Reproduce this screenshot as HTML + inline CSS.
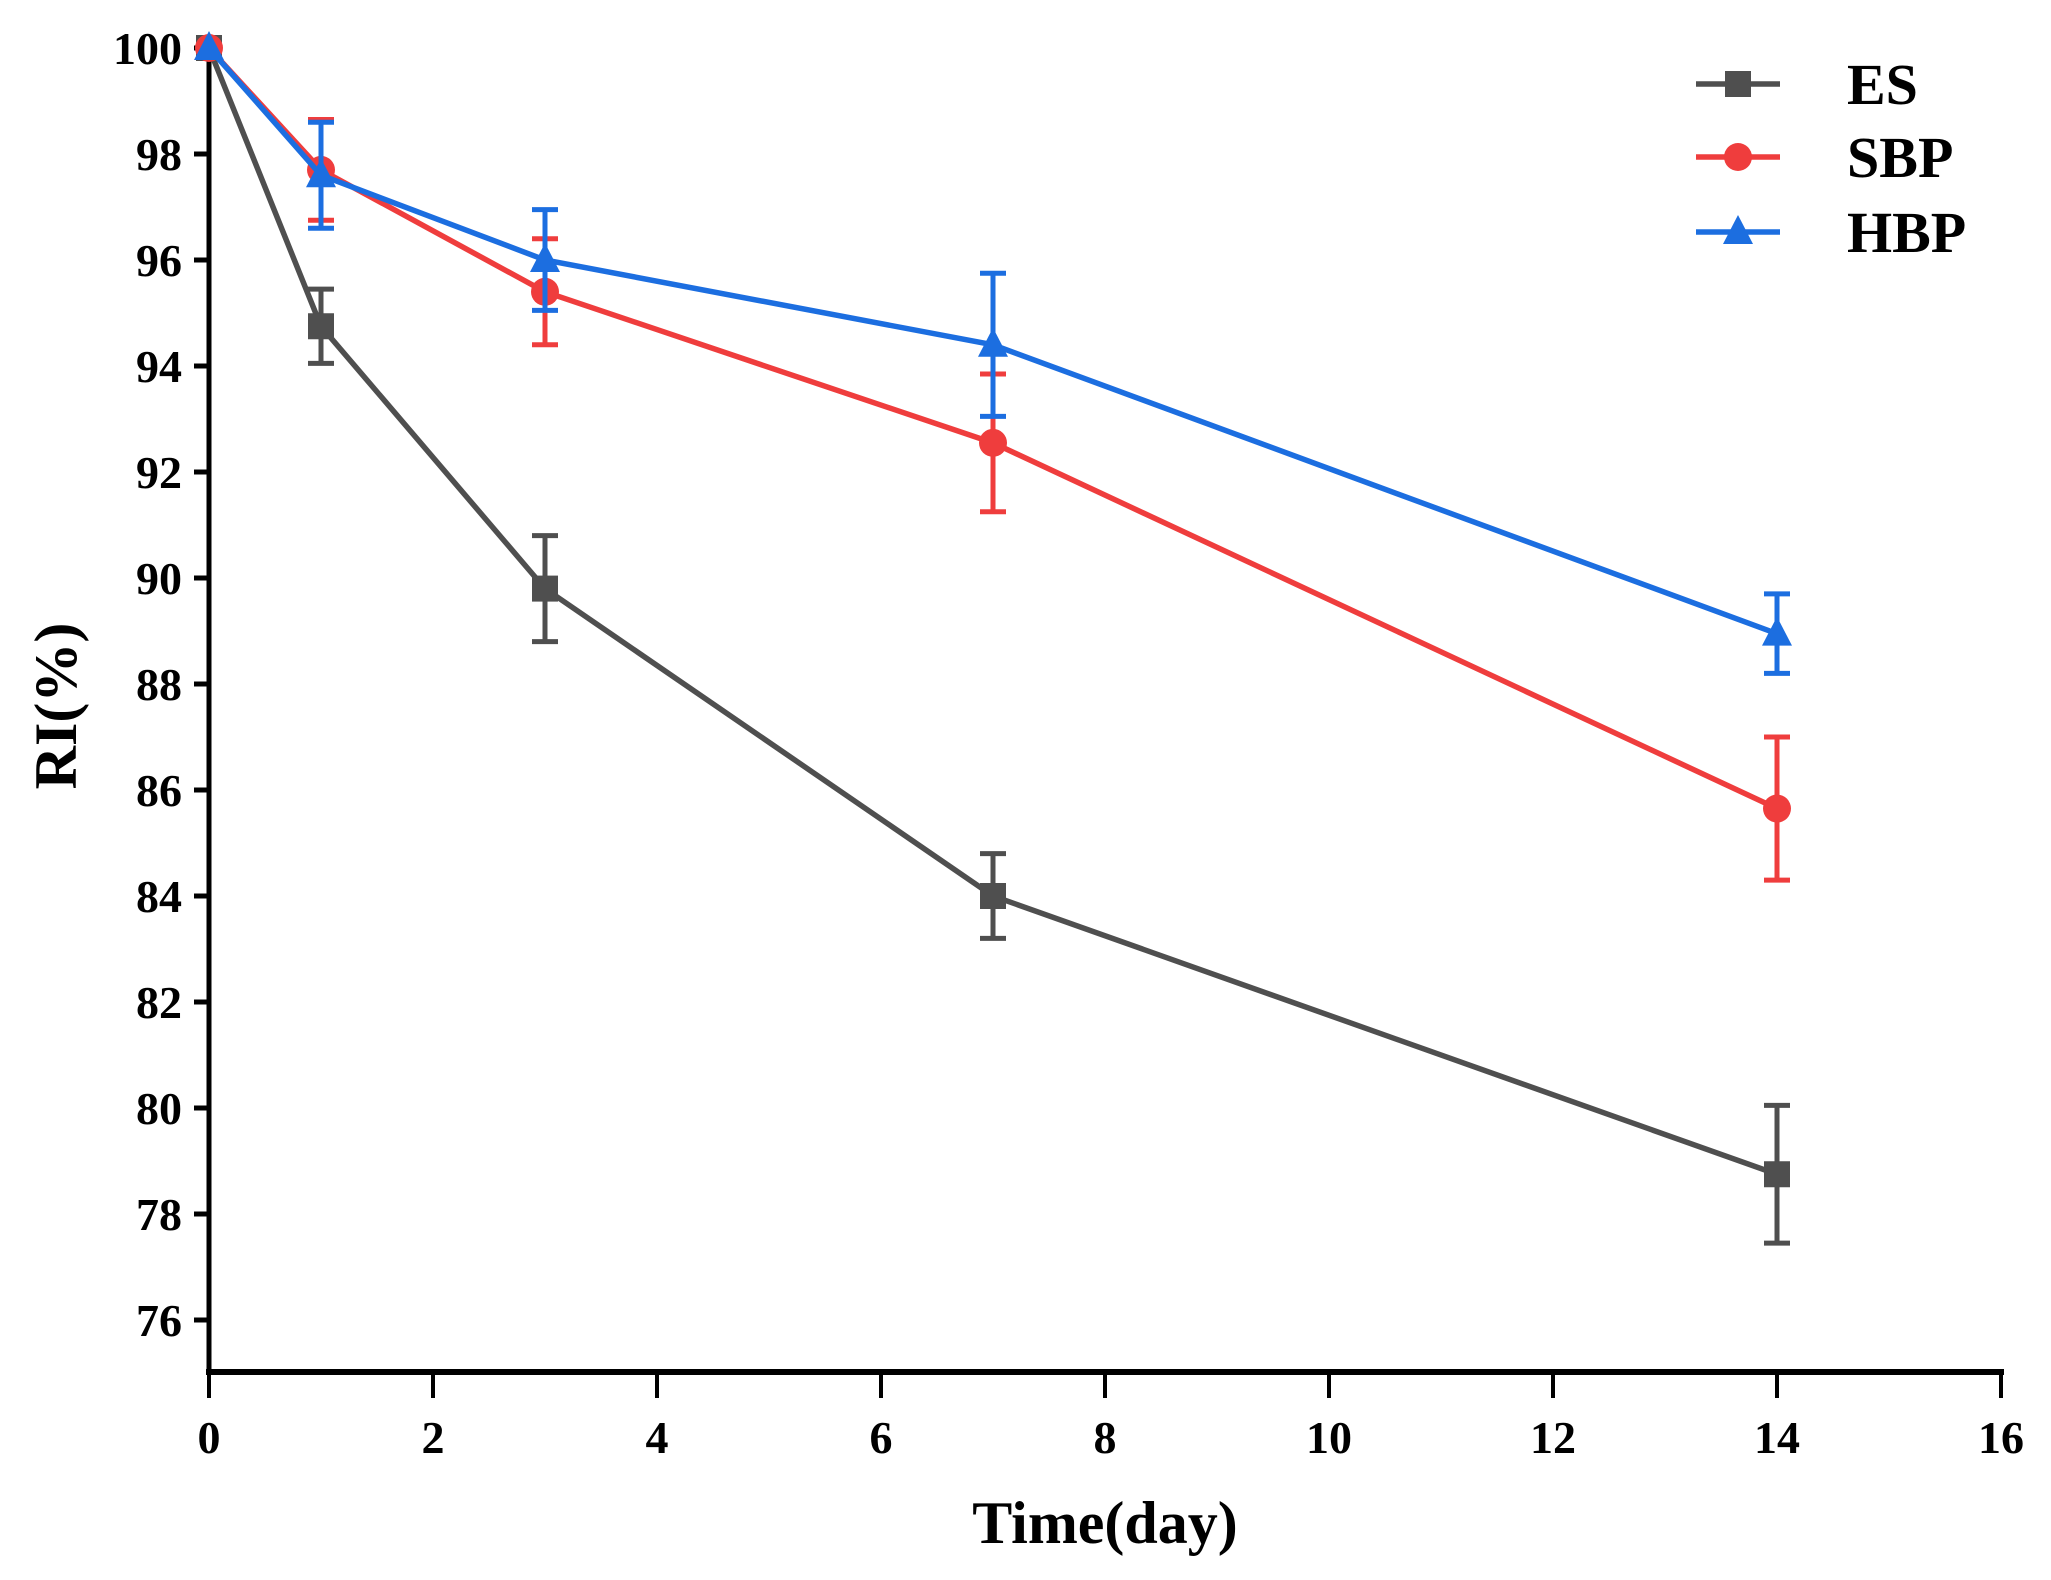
<!DOCTYPE html>
<html><head><meta charset="utf-8"><style>
html,body{margin:0;padding:0;background:#fff;}
svg{display:block;font-family:"Liberation Serif",serif;font-weight:bold;}
</style></head><body>
<svg id="chart" width="2051" height="1580" viewBox="0 0 2051 1580" xmlns="http://www.w3.org/2000/svg"></svg>
<script>
const days = [0, 1, 3, 7, 14];
const esValues = [100, 94.75, 89.8, 84.0, 78.75];
const esErrors = [0, 0.7, 1.0, 0.8, 1.3];
const sbpValues = [100, 97.7, 95.4, 92.55, 85.65];
const sbpErrors = [0, 0.95, 1.0, 1.3, 1.35];
const hbpValues = [100, 97.6, 96.0, 94.4, 88.95];
const hbpErrors = [0, 1.0, 0.95, 1.35, 0.75];
const xTicks = [0, 2, 4, 6, 8, 10, 12, 14, 16];
const yTicks = [76, 78, 80, 82, 84, 86, 88, 90, 92, 94, 96, 98, 100];
const seriesNames = ["ES", "SBP", "HBP"];

const NS = "http://www.w3.org/2000/svg";
const svg = document.getElementById("chart");
const X0 = 209, X1 = 2001, Y0 = 1372, YTOP = 48;
function xs(v){ return X0 + (v - 0) / 16 * (X1 - X0); }
function ys(v){ return YTOP + (100 - v) / 24 * (1320 - YTOP); }
function el(tag, attrs, parent){
  const e = document.createElementNS(NS, tag);
  for (const k in attrs) e.setAttribute(k, attrs[k]);
  (parent || svg).appendChild(e);
  return e;
}

const ax = el("g", {});


el("line", {x1: X0, y1: 45, x2: X0, y2: Y0 + 3, stroke: "#000", "stroke-width": 5}, ax);
el("line", {x1: X0 - 3, y1: Y0, x2: X1 + 3, y2: Y0, stroke: "#000", "stroke-width": 6}, ax);
yTicks.forEach(t => {
  el("line", {x1: X0 - 15, y1: ys(t), x2: X0, y2: ys(t), stroke: "#000", "stroke-width": 5}, ax);
  const tx = el("text", {x: 182, y: ys(t) + 16, "text-anchor": "end", "font-size": 46}, ax);
  tx.textContent = t;
  
  
});
xTicks.forEach(t => {
  el("line", {x1: xs(t), y1: Y0, x2: xs(t), y2: Y0 + 26, stroke: "#000", "stroke-width": 4}, ax);
  const tx = el("text", {x: xs(t), y: 1453, "text-anchor": "middle", "font-size": 46}, ax);
  tx.textContent = t;
  
  
});
const xt = el("text", {x: 1105, y: 1543, "text-anchor": "middle", "font-size": 60});
xt.textContent = "Time(day)";


const yt = el("text", {x: 0, y: 0, "text-anchor": "middle", "font-size": 60, transform: "translate(76,706) rotate(-90)"});
yt.textContent = "RI(%)";



function marker(type, cx, cy, color, parent){
  let m;
  if (type === "square") m = el("rect", {x: cx - 13, y: cy - 13, width: 26, height: 26, fill: color}, parent);
  else if (type === "circle") m = el("circle", {cx: cx, cy: cy, r: 14, fill: color}, parent);
  else m = el("polygon", {points: `${cx},${cy-17} ${cx+15},${cy+12} ${cx-15},${cy+12}`, fill: color}, parent);
  return m;
}

function drawSeries(name, vals, errs, color, type){
  const g = el("g", {});
  
  
  const pts = days.map((d, i) => xs(d) + "," + ys(vals[i])).join(" ");
  el("polyline", {points: pts, fill: "none", stroke: color, "stroke-width": 5.5}, g);
  days.forEach((d, i) => {
    if (errs[i] > 0) {
      const x = xs(d), yt = ys(vals[i] + errs[i]), yb = ys(vals[i] - errs[i]);
      el("line", {x1: x, y1: yt, x2: x, y2: yb, stroke: color, "stroke-width": 5}, g);
      el("line", {x1: x - 13, y1: yt, x2: x + 13, y2: yt, stroke: color, "stroke-width": 5}, g);
      el("line", {x1: x - 13, y1: yb, x2: x + 13, y2: yb, stroke: color, "stroke-width": 5}, g);
    }
    const m = marker(type, xs(d), ys(vals[i]), color, g);
    
    
  });
}
drawSeries(seriesNames[0], esValues, esErrors, "#4f4f4f", "square");
drawSeries(seriesNames[1], sbpValues, sbpErrors, "#ef3d3d", "circle");
drawSeries(seriesNames[2], hbpValues, hbpErrors, "#1c6ee0", "triangle");

const lg = el("g", {});


const lcolors = ["#4f4f4f", "#ef3d3d", "#1c6ee0"];
const ltypes = ["square", "circle", "triangle"];
[84, 157, 232].forEach((y, i) => {
  const eg = el("g", {}, lg);
  
  
  el("line", {x1: 1696, y1: y, x2: 1780, y2: y, stroke: lcolors[i], "stroke-width": 5.5}, eg);
  marker(ltypes[i], 1738, y, lcolors[i], eg);
  const t = el("text", {x: 1847, y: y + 20, "font-size": 58}, eg);
  t.textContent = seriesNames[i];
});
</script>
</body></html>
